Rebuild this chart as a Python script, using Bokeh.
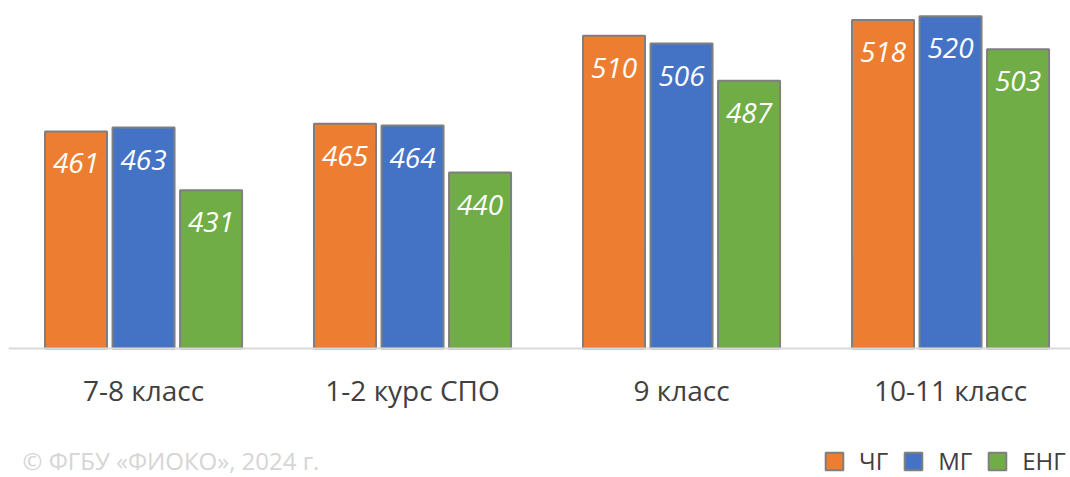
from bokeh.plotting import figure
from bokeh.models import ColumnDataSource, Legend, LegendItem, Label, Range1d, Span
from bokeh.core.properties import value
from bokeh.embed import file_html
from bokeh.resources import INLINE

categories = ["7-8 класс", "1-2 курс СПО", "9 класс", "10-11 класс"]
series_names = ["ЧГ", "МГ", "ЕНГ"]
chg = [461, 465, 510, 518]
mg = [463, 464, 506, 520]
eng = [431, 440, 487, 503]
colors = ["#ED7D31", "#4472C4", "#70AD47"]
baseline = 350

FONT = "Open Sans"
W, H = 1070, 477
p = figure(width=W, height=H, output_backend="svg", toolbar_location=None,
           x_range=Range1d(-0.502, 3.446), y_range=Range1d(284.0, 528.0),
           min_border_left=8, min_border_right=0, min_border_top=0, min_border_bottom=0)
p.outline_line_color = None
p.grid.visible = False
p.axis.visible = False
p.background_fill_color = "white"
p.border_fill_color = "white"

xs = list(range(len(categories)))
bar_w = 0.2305
offs = [-0.251, 0.0, 0.251]

# axis baseline
p.add_layout(Span(location=baseline, dimension="width", line_color="#D9D9D9", line_width=2))

renderers = []
for vals, col, off in zip([chg, mg, eng], colors, offs):
    src = ColumnDataSource(dict(x=[x + off for x in xs], top=vals,
                                lab=[str(v) for v in vals]))
    r = p.vbar(x="x", top="top", bottom=baseline, width=bar_w, source=src,
               fill_color=col, line_color="#7F7F7F", line_width=2)
    renderers.append(r)
    p.text(x="x", y="top", text="lab", source=src, y_offset=32,
           text_align="center", text_baseline="middle", text_color="white",
           text_font=value(FONT), text_font_style="italic", text_font_size="28px")

# category labels
csrc = ColumnDataSource(dict(x=xs, y=[baseline] * len(xs), t=categories))
p.text(x="x", y="y", text="t", source=csrc, y_offset=42,
       text_align="center", text_baseline="middle", text_color="#404040",
       text_font=value(FONT), text_font_size="28px")

legend = Legend(items=[LegendItem(label=n, renderers=[r]) for n, r in zip(series_names, renderers)],
                orientation="horizontal", location=(815, 0),
                glyph_width=22, glyph_height=22, label_standoff=14, spacing=14,
                padding=0, margin=0, border_line_color=None, background_fill_alpha=0,
                label_text_font=FONT, label_text_font_size="24px", label_text_color="#404040")
p.add_layout(legend, "center")

cp = Label(x=14, y=1, x_units="screen", y_units="screen",
           text="© ФГБУ «ФИОКО», 2024 г.", text_font=FONT, text_font_size="24px",
           text_color="#D5D5D5")
p.add_layout(cp)

open("out.html", "w").write(file_html(p, INLINE))
